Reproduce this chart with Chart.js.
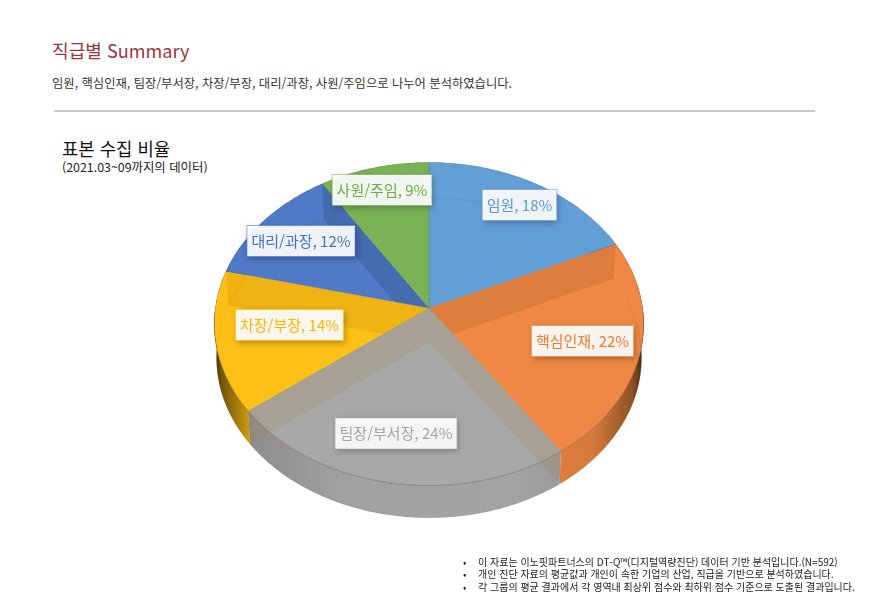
<!DOCTYPE html>
<html lang="ko">
<head>
<meta charset="utf-8">
<title>직급별 Summary</title>
<script src="https://cdn.jsdelivr.net/npm/chart.js@4"></script>
<style>
    html, body { margin: 0; padding: 0; background: #fff; }
    body { width: 871px; height: 599px; position: relative; overflow: hidden; font-family: "Noto Sans CJK KR", "Noto Sans", sans-serif; }
    #chart { position: absolute; left: 0; top: 0; }
    .txt { position: absolute; white-space: nowrap; line-height: 1; }
    #title { left: 52px; top: 41px; font-size: 18.1px; color: #9a3344; }
    #subtitle { left: 52px; top: 77px; font-size: 12.3px; color: #333; }
    #rule { position: absolute; left: 54px; top: 110px; width: 761px; height: 1.5px; background: #c9c9c9; }
    #chartTitle { left: 62px; top: 140px; font-size: 17.8px; color: #111; }
    #chartSub { left: 62px; top: 161px; font-size: 12.4px; color: #222; }
    #notes { position: absolute; left: 463px; top: 556px; margin: 0; padding: 0; list-style: none; font-size: 10px; line-height: 12.4px; color: #222; }
    #notes li { position: relative; padding-left: 15px; white-space: nowrap; }
    #notes li::before { content: "•"; position: absolute; left: 0; }
</style>
</head>
<body>
<div class="txt" id="title">직급별 Summary</div>
<div class="txt" id="subtitle">임원, 핵심인재, 팀장/부서장, 차장/부장, 대리/과장, 사원/주임으로 나누어 분석하였습니다.</div>
<div id="rule"></div>
<div class="txt" id="chartTitle">표본 수집 비율</div>
<div class="txt" id="chartSub">(2021.03~09까지의 데이터)</div>
<canvas id="chart" width="871" height="599"></canvas>
<ul id="notes">
    <li>이 자료는 이노핏파트너스의 DT-Q™(디지털역량진단) 데이터 기반 분석입니다.(N=592)</li>
    <li>개인 진단 자료의 평균값과 개인이 속한 기업의 산업, 직급을 기반으로 분석하였습니다.</li>
    <li>각 그룹의 평균 결과에서 각 영역내 최상위 점수와 최하위 점수 기준으로 도출된 결과입니다.</li>
</ul>
<script>
// data
const categories = ['임원', '핵심인재', '팀장/부서장', '차장/부장', '대리/과장', '사원/주임'];
const percents = [18, 22, 24, 14, 12, 9];

// styles
const sliceColors = ['#639fd7', '#ee8844', '#a8a8a8', '#fdc016', '#4f7ac7', '#7ab356'];
const labelColors = ['#5b9bd5', '#ed7d31', '#a5a5a5', '#f5b800', '#4472c4', '#70ad47'];
// tint of the cut wall seen through each slice (slice index -> colour)
const bandColors = ['rgba(0,0,0,0)', 'rgba(110,60,20,0.13)', 'rgba(160,130,80,0.22)', 'rgba(120,70,0,0.10)', 'rgba(20,40,70,0.17)', 'rgba(0,0,0,0)'];
// the wall at the end of slice i shows on this slice
const bandOwners = [1, 2, 2, 3, 4, 5];
// label box centre, as offset from the pie apex in px
const labelOffsets = [[90.5, -103], [153.5, 33], [-33, 125.5], [-139.5, 17], [-128, -67], [-47, -118]];

// perspective of the disc
const WIDEN = 1.335;   // horizontal stretch over the radius
const TILT = 0.099;    // front of the disc is nearer than the back
const DEPTH = 34;      // height of the wall
const SHRINK = 0.99;   // lower face is a little smaller
const STEP = Math.PI / 180;

function project(arc, a, lower) {
    const w = 1 - TILT * Math.sin(a);
    const s = lower ? SHRINK : 1;
    return {
        x: arc.x + s * arc.outerRadius * WIDEN * Math.cos(a) / w,
        y: arc.y + (lower ? DEPTH : 0) + s * arc.outerRadius * Math.sin(a) / w
    };
}

function rimPoints(arc, from, to, lower) {
    const pts = [];
    const n = Math.max(1, Math.ceil(Math.abs(to - from) / STEP));
    for (let i = 0; i <= n; i++) pts.push(project(arc, from + (to - from) * i / n, lower));
    return pts;
}

function addPoly(ctx, pts) {
    pts.forEach((p, i) => (i ? ctx.lineTo(p.x, p.y) : ctx.moveTo(p.x, p.y)));
    ctx.closePath();
}

function tracePoly(ctx, pts) {
    ctx.beginPath();
    addPoly(ctx, pts);
}

function wallPoints(arc) {
    return rimPoints(arc, arc.startAngle, arc.endAngle, false)
        .concat(rimPoints(arc, arc.endAngle, arc.startAngle, true));
}

function facePoints(arc) {
    return [{ x: arc.x, y: arc.y }].concat(rimPoints(arc, arc.startAngle, arc.endAngle, false));
}

// the disc is drawn here from the arcs that the pie controller has laid out
const disc3d = {
    id: 'disc3d',
    beforeDatasetsDraw(chart) {
        const ctx = chart.ctx;
        const arcs = chart.getDatasetMeta(0).data;
        const first = arcs[0];
        ctx.save();

        // walls
        arcs.forEach(arc => {
            tracePoly(ctx, wallPoints(arc));
            ctx.fillStyle = arc.options.backgroundColor;
            ctx.fill();
        });
        const left = first.x - first.outerRadius * WIDEN - 2;
        const right = first.x + first.outerRadius * WIDEN + 2;
        const shade = ctx.createLinearGradient(left, 0, right, 0);
        shade.addColorStop(0, 'rgba(30,20,0,0.8)');
        shade.addColorStop(0.03, 'rgba(30,20,0,0.55)');
        shade.addColorStop(0.09, 'rgba(30,20,0,0.18)');
        shade.addColorStop(0.3, 'rgba(0,0,0,0.04)');
        shade.addColorStop(0.7, 'rgba(0,0,0,0.03)');
        shade.addColorStop(0.88, 'rgba(30,20,0,0.12)');
        shade.addColorStop(0.97, 'rgba(30,20,0,0.45)');
        shade.addColorStop(1, 'rgba(30,20,0,0.85)');
        arcs.forEach(arc => {
            tracePoly(ctx, wallPoints(arc));
            ctx.fillStyle = shade;
            ctx.fill();
        });

        // top faces
        arcs.forEach(arc => {
            tracePoly(ctx, facePoints(arc));
            ctx.fillStyle = arc.options.backgroundColor;
            ctx.fill();
            ctx.strokeStyle = 'rgba(90,70,40,0.18)';
            ctx.lineWidth = 0.8;
            ctx.stroke();
        });

        // cut walls show through the top face, once per slice so they do not stack
        arcs.forEach((owner, k) => {
            ctx.save();
            ctx.beginPath();
            addPoly(ctx, facePoints(owner));
            addPoly(ctx, wallPoints(owner));
            ctx.clip();
            ctx.beginPath();
            arcs.forEach((arc, i) => {
                if (bandOwners[i] !== k) return;
                const a = arc.endAngle;
                addPoly(ctx, [{ x: arc.x, y: arc.y }, project(arc, a, false), project(arc, a, true), { x: arc.x, y: arc.y + DEPTH }]);
            });
            ctx.fillStyle = bandColors[k];
            ctx.fill();
            ctx.restore();
        });

        // lower rim seen through, and the front edge of the top face
        ctx.beginPath();
        rimPoints(first, -Math.PI, Math.PI, true).forEach((p, i) => (i ? ctx.lineTo(p.x, p.y) : ctx.moveTo(p.x, p.y)));
        ctx.strokeStyle = 'rgba(60,60,60,0.07)';
        ctx.lineWidth = 1;
        ctx.stroke();
        ctx.beginPath();
        rimPoints(first, 0.02, Math.PI - 0.02, false).forEach((p, i) => (i ? ctx.lineTo(p.x, p.y) : ctx.moveTo(p.x, p.y)));
        ctx.strokeStyle = 'rgba(60,60,60,0.28)';
        ctx.stroke();

        // label boxes
        ctx.font = '15px "Noto Sans CJK KR", "Noto Sans", sans-serif';
        ctx.textAlign = 'center';
        ctx.textBaseline = 'middle';
        arcs.forEach((arc, i) => {
            const text = `${categories[i]}, ${percents[i]}%`;
            const bw = ctx.measureText(text).width + 9;
            const bh = 31;
            const cx = arc.x + labelOffsets[i][0];
            const cy = arc.y + labelOffsets[i][1];
            ctx.save();
            ctx.shadowColor = 'rgba(0,0,0,0.3)';
            ctx.shadowBlur = 6;
            ctx.shadowOffsetX = 1.5;
            ctx.shadowOffsetY = 2;
            ctx.fillStyle = 'rgba(255,255,255,0.92)';
            ctx.fillRect(cx - bw / 2, cy - bh / 2, bw, bh);
            ctx.restore();
            ctx.strokeStyle = labelColors[i];
            ctx.globalAlpha = 0.55;
            ctx.lineWidth = 1;
            ctx.strokeRect(cx - bw / 2, cy - bh / 2, bw, bh);
            ctx.globalAlpha = 1;
            ctx.fillStyle = labelColors[i];
            ctx.fillText(text, cx, cy);
        });

        ctx.restore();
        return false; // the plain flat pie is not wanted
    }
};

new Chart(document.getElementById('chart'), {
    type: 'pie',
    data: {
        labels: categories,
        datasets: [{ data: percents, backgroundColor: sliceColors, borderWidth: 0 }]
    },
    options: {
        responsive: false,
        animation: false,
        // puts the apex at 429,308 with a radius of 160
        layout: { padding: { left: 0, right: 13, top: 148, bottom: 131 } },
        plugins: { legend: { display: false }, tooltip: { enabled: false } }
    },
    plugins: [disc3d]
});
</script>
</body>
</html>
